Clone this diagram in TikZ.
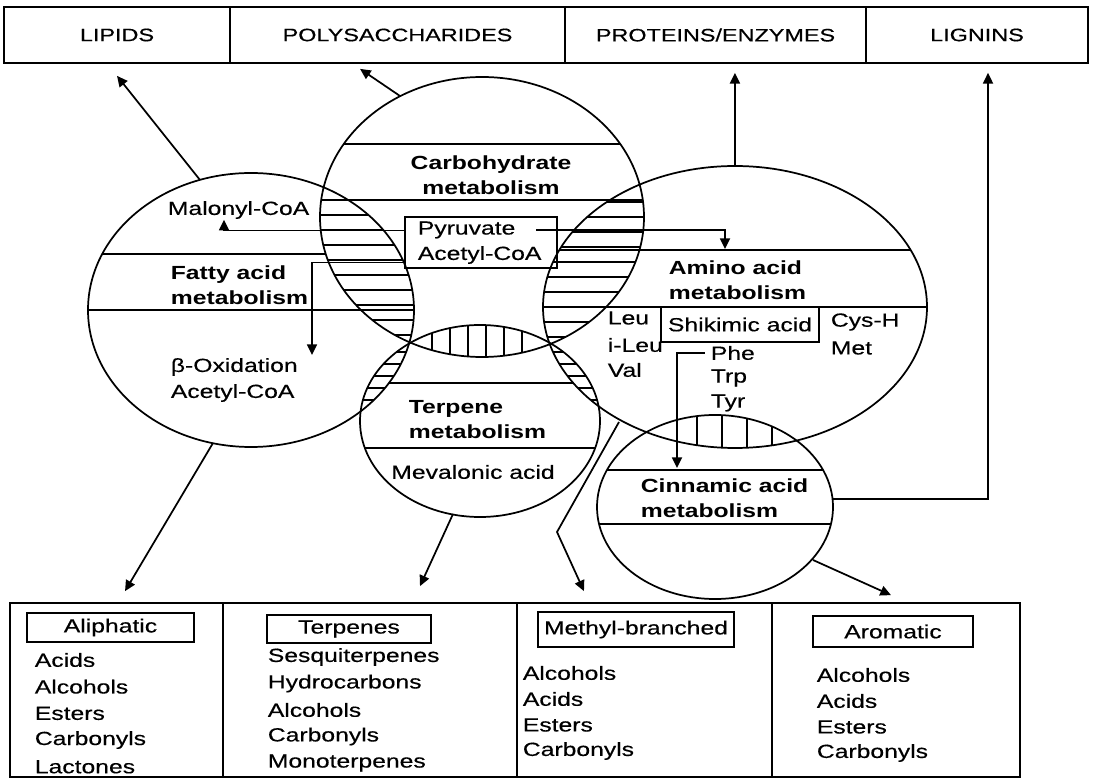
\documentclass[tikz,border=0pt]{standalone}
\usepackage{fontspec}
\setmainfont{Liberation Sans}[FakeStretch=1.3, UprightFeatures={FakeBold=0.4}]
\usetikzlibrary{arrows.meta}
\def\ellL{(251,310) ellipse [x radius=163, y radius=137]}
\def\ellC{(482,217) ellipse [x radius=162, y radius=140]}
\def\ellA{(735,307) ellipse [x radius=192, y radius=141]}
\def\ellT{(480,421) ellipse [x radius=120, y radius=96]}
\def\ellN{(715,507) ellipse [x radius=118, y radius=92]}

\begin{document}
\begin{tikzpicture}[x=0.75pt, y=-0.75pt, line width=1.3pt,
	lbl/.style={inner sep=0pt, font=\fontsize{14.25}{19}\selectfont},
	blbl/.style={inner sep=0pt, align=left, font=\fontsize{14.25}{19}\selectfont\bfseries},
	topbox/.style={draw, minimum height=42pt, inner sep=0pt, font=\fontsize{13.5}{16}\selectfont},
	col/.style={draw, minimum height=130.5pt, inner sep=0pt},
	hdr/.style={draw, inner sep=0pt, font=\fontsize{14.25}{19}\selectfont},
	arr/.style={-{Triangle[length=8pt,width=7.5pt]}},
	hatch/.style={line width=1pt}]
			%%%%% START %%%%%
			\useasboundingbox (0,0) rectangle (1093,780);
			
			% top boxes
			\node[topbox, minimum width=169.5pt] (lipids) at (117,35) {LIPIDS};
			\node[topbox, minimum width=251.25pt] (poly) at (397.5,35) {POLYSACCHARIDES};
			\node[topbox, minimum width=225.75pt] (prot) at (715.5,35) {PROTEINS/ENZYMES};
			\node[topbox, minimum width=166.5pt] (lign) at (977,35) {LIGNINS};
			
			% ellipses
			\draw \ellL;
			\draw \ellC;
			\draw \ellA;
			\draw \ellT;
			\draw \ellN;
			
			% hatched overlaps
			\begin{scope}
				\clip \ellL; \clip \ellC;
				\foreach \y in {200,215,...,335} \draw[hatch] (300,\y) -- (430,\y);
			\end{scope}
			\begin{scope}
				\clip \ellC; \clip \ellA;
				\foreach \y in {202,217,...,337} \draw[hatch] (530,\y) -- (660,\y);
			\end{scope}
			\begin{scope}
				\clip \ellL; \clip \ellT;
				\foreach \y in {352,364,...,412} \draw[hatch] (350,\y) -- (420,\y);
			\end{scope}
			\begin{scope}
				\clip \ellA; \clip \ellT;
				\foreach \y in {352,364,...,412} \draw[hatch] (540,\y) -- (610,\y);
			\end{scope}
			\begin{scope}
				\clip \ellC; \clip \ellT;
				\foreach \x in {432,450,...,522} \draw[hatch] (\x,320) -- (\x,362);
			\end{scope}
			\begin{scope}
				\clip \ellA; \clip \ellN;
				\foreach \x in {697,722,747,772} \draw[hatch] (\x,410) -- (\x,455);
			\end{scope}
			
			% division lines
			\begin{scope}
				\clip \ellL; \draw (0,310) -- (500,310);
			\end{scope}
			\begin{scope}
				\clip \ellC; \draw (300,144) -- (700,144); \draw (300,200) -- (700,200);
			\end{scope}
			\begin{scope}
				\clip \ellA; \draw (500,250) -- (950,250); \draw (500,307) -- (950,307);
			\end{scope}
			\begin{scope}
				\clip \ellT; \draw (300,448) -- (650,448);
			\end{scope}
			\begin{scope}
				\clip \ellN; \draw (580,470) -- (850,470); \draw (580,524) -- (850,524);
			\end{scope}
			\draw (102,254) -- (326,254);
			\draw (389,383) -- (573,383);
			
			% fatty acid
			\node[lbl, anchor=west] (malonyl) at (167,210) {Malonyl-CoA};
			\node[blbl, anchor=west] (fatty) at (170,285.5) {Fatty acid\\metabolism};
			\node[lbl, anchor=west] (boxid) at (170,367) {β-Oxidation};
			\node[lbl, anchor=west] (bacetyl) at (170,393) {Acetyl-CoA};
			
			% carbohydrate
			\node[blbl, align=center] (carbo) at (491,175) {Carbohydrate\\metabolism};
			\node[draw, minimum width=114pt, minimum height=38.25pt] (pyrbox) at (481,242.5) {};
			\node[lbl, anchor=west] (pyruvate) at (417,230) {Pyruvate};
			\node[lbl, anchor=west] (acetyl) at (417,255) {Acetyl-CoA};
			
			% amino acid
			\node[blbl, anchor=west] (amino) at (668,280) {Amino acid\\metabolism};
			\node[draw, hdr, minimum width=118.5pt, minimum height=26.25pt] (shik) at (740,324.5) {Shikimic acid};
			\node[lbl, anchor=west] (leu) at (607,318) {Leu};
			\node[lbl, anchor=west] (ileu) at (607,345) {i-Leu};
			\node[lbl, anchor=west] (val) at (607,370) {Val};
			\node[lbl, anchor=west] (cys) at (830,322) {Cys-H};
			\node[lbl, anchor=west] (met) at (830,348) {Met};
			\node[lbl, anchor=west] (phe) at (710,353) {Phe};
			\node[lbl, anchor=west] (trp) at (710,378) {Trp};
			\node[lbl, anchor=west] (tyr) at (710,403) {Tyr};
			
			% terpene, cinnamic
			\node[blbl, anchor=west] (terp) at (408,419.5) {Terpene\\metabolism};
			\node[lbl] (meva) at (473,472) {Mevalonic acid};
			\node[blbl, anchor=west] (cinn) at (640,498.5) {Cinnamic acid\\metabolism};
			
			% inner arrows
			\coordinate (ox-in) at (312,355);
			\coordinate (am-in) at (725,249);
			\coordinate (cin-in) at (677,468);
			\draw[arr] ([yshift=9pt]pyrbox.west) -| ([xshift=-10.9pt]malonyl.south);
			\draw[arr] ([yshift=-15pt]pyrbox.west) -| (ox-in);
			\draw[arr] ([xshift=15pt]pyruvate.east) -| (am-in);
			\draw[arr] ([xshift=-4pt]phe.west) -| (cin-in);
			
			% bottom columns
			\node[col, minimum width=159.75pt] (colA) at (116.5,690) {};
			\node[col, minimum width=220.5pt] (colB) at (370,690) {};
			\node[col, minimum width=191.25pt] (colC) at (644.5,690) {};
			\node[col, minimum width=186pt] (colD) at (896,690) {};
			
			\node[hdr, minimum width=125.25pt, minimum height=21.75pt] (aliph) at (110.5,627.5) {Aliphatic};
			\node[hdr, minimum width=123pt, minimum height=21pt] (terpenes) at (349,629) {Terpenes};
			\node[hdr, minimum width=147pt, minimum height=26.25pt] (methyl) at (636,629.5) {Methyl-branched};
			\node[hdr, minimum width=120pt, minimum height=23.25pt] (arom) at (893,631.5) {Aromatic};
			
			\foreach \t [count=\i from 0] in {Acids,Alcohols,Esters,Carbonyls,Lactones}
				\node[lbl, anchor=west] (ali-\i) at (34,660+26.7*\i) {\t};
			\foreach \t [count=\i from 0] in {Sesquiterpenes,Hydrocarbons,Alcohols,Carbonyls,Monoterpenes}
				\node[lbl, anchor=west] (ter-\i) at (267,657+26.5*\i) {\t};
			\foreach \t [count=\i from 0] in {Alcohols,Acids,Esters,Carbonyls}
				\node[lbl, anchor=west] (met-\i) at (522,673+26*\i) {\t};
			\foreach \t [count=\i from 0] in {Alcohols,Acids,Esters,Carbonyls}
				\node[lbl, anchor=west] (aro-\i) at (816,675+26*\i) {\t};
			
			% outer arrows
			\coordinate (L-top) at (200,180);
			\coordinate (C-top) at (400,96);
			\coordinate (A-top) at (735,166);
			\coordinate (N-right) at (833,499);
			\coordinate (L-bot) at (213,443);
			\coordinate (T-bot) at (453,514);
			\coordinate (A-bot) at (619,422);
			\coordinate (kink) at (557,532);
			\coordinate (N-bot) at (813,560);
			
			\draw[arr] (L-top) -- ([yshift=-9pt]lipids.south);
			\draw[arr] (C-top) -- ([xshift=-28.1pt,yshift=-3.75pt]poly.south);
			\draw[arr] (A-top) -- ([xshift=14.6pt,yshift=-6.75pt]prot.south);
			\draw[arr] (N-right) -| ([xshift=8.25pt,yshift=-6.75pt]lign.south);
			\draw[arr] (L-bot) -- ([xshift=6.4pt,yshift=8.25pt]colA.north);
			\draw[arr] (T-bot) -- ([xshift=37.5pt,yshift=12pt]colB.north);
			\draw[arr] (A-bot) -- (kink) -- ([xshift=-45.4pt,yshift=8.25pt]colC.north);
			\draw[arr] (N-bot) -- ([xshift=-3.75pt,yshift=5.25pt]colD.north);
			
			%%%%% END %%%%%
\end{tikzpicture}
\end{document}
